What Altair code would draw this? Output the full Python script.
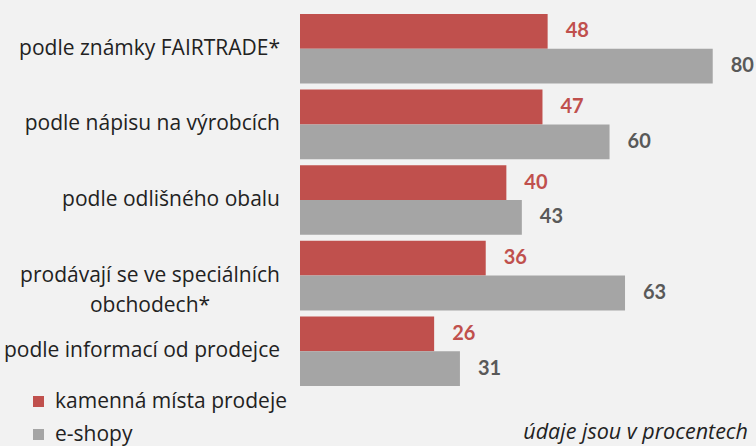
import altair as alt
import pandas as pd

categories = [
    "podle známky FAIRTRADE*",
    "podle nápisu na výrobcích",
    "podle odlišného obalu",
    "prodávají se ve speciálních obchodech*",
    "podle informací od prodejce",
]
display_labels = [
    "podle známky FAIRTRADE*",
    "podle nápisu na výrobcích",
    "podle odlišného obalu",
    "prodávají se ve speciálních\nobchodech*",
    "podle informací od prodejce",
]
series_names = ["kamenná místa prodeje", "e-shopy"]
store_values = [48, 47, 40, 36, 26]
eshop_values = [80, 60, 43, 63, 31]
colors = ["#C0504D", "#A5A5A5"]
note = "údaje jsou v procentech"

rows = []
for c, v1, v2 in zip(categories, store_values, eshop_values):
    rows.append({"cat": c, "series": series_names[0], "value": v1})
    rows.append({"cat": c, "series": series_names[1], "value": v2})
df = pd.DataFrame(rows)

lab = pd.DataFrame({"cat": categories, "display": display_labels,
                    "multi": [("\n" in d) for d in display_labels]})

FONT = "Open Sans"
VFONT = "Lato"
FS = 21

y_enc = alt.Y("cat:N", sort=categories, axis=None,
              scale=alt.Scale(paddingInner=0.08, paddingOuter=0.04))
yoff = alt.YOffset("series:N", sort=series_names,
                   scale=alt.Scale(domain=series_names, paddingInner=0, paddingOuter=0))
x_enc = alt.X("value:Q", axis=None, scale=alt.Scale(domain=[0, 88], nice=False))

bars = alt.Chart(df).mark_bar().encode(
    x=x_enc,
    y=y_enc,
    yOffset=yoff,
    color=alt.Color("series:N", sort=series_names,
                    scale=alt.Scale(domain=series_names, range=colors),
                    legend=alt.Legend(
                        title=None, orient="none", legendX=-272, legendY=380,
                        direction="vertical", symbolType="square", symbolSize=121,
                        symbolStrokeWidth=0, labelFont=FONT, labelFontSize=FS,
                        labelColor="#222222", labelOffset=6, rowPadding=11,
                        labelLimit=0, symbolOpacity=1)),
)

values = alt.Chart(df).mark_text(align="left", baseline="middle", dx=18,
                                 font=VFONT, fontSize=20, fontWeight="bold").encode(
    x=x_enc,
    y=y_enc,
    yOffset=yoff,
    text=alt.Text("value:Q"),
    color=alt.condition(alt.datum.series == "e-shopy",
                        alt.value("#595959"), alt.value("#C0504D")),
)

labels_single = alt.Chart(lab).transform_filter("!datum.multi").mark_text(
    align="right", baseline="middle", font=FONT, fontSize=FS, color="#222222"
).encode(
    x=alt.value(-20),
    y=y_enc,
    text="display:N",
)

labels_multi = alt.Chart(lab).transform_filter("datum.multi").mark_text(
    align="center", baseline="middle", font=FONT, fontSize=FS, color="#222222",
    lineBreak="\n", lineHeight=30
).encode(
    x=alt.value(-150),
    y=y_enc,
    text="display:N",
)

note_layer = alt.Chart(pd.DataFrame({"t": [note]})).mark_text(
    align="right", baseline="middle", font=FONT, fontSize=21.5, fontStyle="italic",
    color="#222222"
).encode(x=alt.value(448), y=alt.value(422), text="t:N")

chart = alt.layer(bars, values, labels_single, labels_multi, note_layer).properties(
    width=454, height=378,
    autosize=alt.AutoSizeParams(type="none"),
    padding={"left": 300, "top": 11, "right": 2, "bottom": 57},
    background="#F2F2F2",
).configure_view(stroke=None)

chart.save("out.html", embed_options={"renderer": "svg", "actions": False})
